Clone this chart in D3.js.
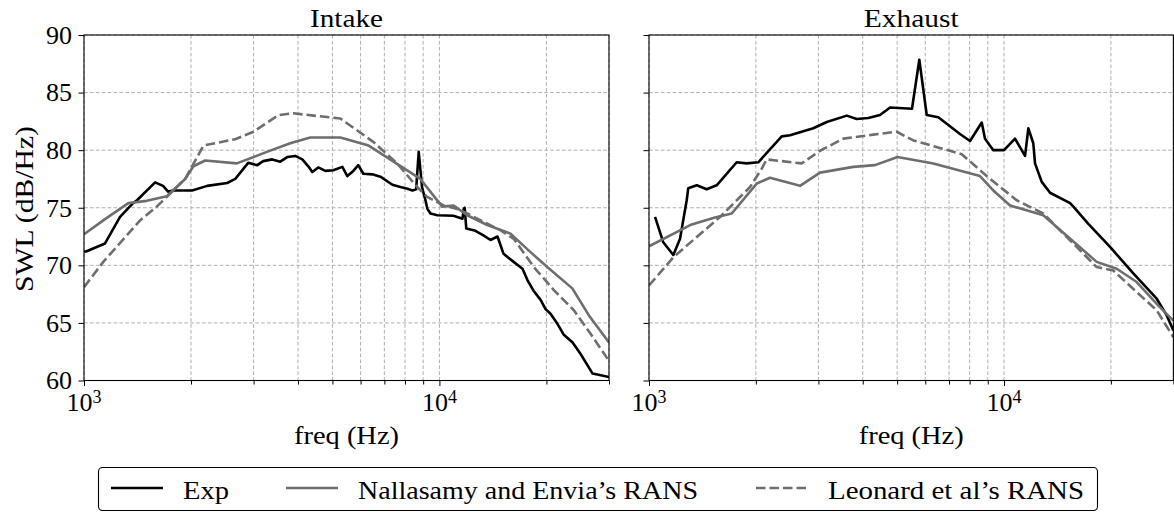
<!DOCTYPE html>
<html><head><meta charset="utf-8">
<script src="https://cdn.jsdelivr.net/npm/d3@7"></script>
<style>
body{margin:0;background:#fff}
</style>
</head><body>
<svg id="chart" width="1174" height="512" font-family="Liberation Serif, DejaVu Serif, serif"></svg>
<script>
// ---------- data ----------
const panelTitles = ["Intake", "Exhaust"];
const xLabel = "freq (Hz)";
const yLabel = "SWL (dB/Hz)";
const yTicks = [60, 65, 70, 75, 80, 85, 90];
const xMajorTicks = [1000, 10000];
const xMajorExp = ["3", "4"];
const xMinorTicks = [2000, 3000, 4000, 5000, 6000, 7000, 8000, 9000, 20000, 30000];
const seriesNames = ["Exp", "Nallasamy and Envia\u2019s RANS", "Leonard et al\u2019s RANS"];

const intakeExpFreq = [1000,1013,1146,1263,1374,1410,1585,1669,1724,1781,2015,2221,2528,2663,2897,3072,3193,3385,3566,3731,3929,4113,4276,4388,4563,4776,5028,5332,5506,5725,5912,6108,6476,6823,7374,7767,8127,8395,8600,8745,8934,9133,9252,9433,9872,10950,11610,11710,11780,11900,12630,13300,13920,14570,15150,16170,17130,17700,18400,19260,19890,20540,21500,22350,23700,24960,26980,30000];
const intakeExpSWL  = [71.2,71.2,71.9,74.2,75.4,75.65,77.2,76.9,76.4,76.5,76.5,76.9,77.15,77.5,78.9,78.7,79.05,79.2,79.0,79.4,79.5,79.2,78.6,78.1,78.5,78.2,78.25,78.55,77.75,78.2,78.7,77.95,77.9,77.7,77.0,76.8,76.65,76.5,76.6,79.85,76.8,75.65,74.9,74.5,74.35,74.3,74.05,74.9,75.0,73.2,73.0,72.6,72.2,72.5,71.0,70.3,69.7,68.7,67.8,67.0,66.2,65.8,64.9,64.0,63.3,62.3,60.6,60.3];

const intakeNalFreq = [1000,1133,1333,1502,1710,1926,2032,2192,2692,3270,3804,4331,5262,6322,8841,10180,10970,11970,13630,15850,18040,20110,23650,26340,30000];
const intakeNalSWL  = [72.7,73.9,75.4,75.6,76.0,77.5,78.6,79.1,78.85,79.85,80.6,81.1,81.1,80.4,77.5,75.1,75.2,74.35,73.5,72.75,71.15,69.85,68.0,65.65,63.3];

const intakeLeoFreq = [1000,1133,1438,1602,1926,2168,2663,3000,3527,3887,4425,5262,6530,7602,8655,9235,10280,11220,11970,14850,16190,18430,20990,23890,26630,30000];
const intakeLeoSWL  = [68.1,70.3,73.9,75.1,77.5,80.4,80.95,81.6,83.05,83.2,83.0,82.75,80.7,78.85,76.8,75.95,75.2,74.9,74.5,73.05,72.3,69.85,67.85,66.1,64.05,61.7];

const exhaustExpFreq = [1040,1097,1171,1223,1277,1290,1363,1454,1551,1766,1884,2032,2365,2496,2903,3168,3606,3847,4148,4475,4776,5506,5773,6058,6530,7516,8022,8655,8841,9330,10000,10740,11460,11710,12090,12230,12770,13480,15350,15680,17280,19890,23130,26920,28730,30000];
const exhaustExpSWL  = [74.2,72.0,70.9,72.3,75.65,76.7,76.95,76.6,76.95,78.95,78.85,78.95,81.2,81.3,81.9,82.45,83.0,82.7,82.8,83.05,83.7,83.6,87.85,83.05,82.85,81.4,80.8,82.4,81.0,80.0,80.0,81.0,79.5,81.9,80.6,78.85,77.25,76.3,75.4,75.1,73.6,71.6,69.3,67.1,65.65,64.35];

const exhaustNalFreq = [1000,1319,1534,1710,2011,2192,2663,3032,3763,4331,5012,6322,8557,9330,10400,12900,18240,20770,23650,27210,30000];
const exhaustNalSWL  = [71.65,73.55,74.15,74.5,77.1,77.6,76.9,78.05,78.55,78.7,79.4,78.85,77.75,76.5,75.2,74.35,70.3,69.7,68.55,66.5,65.2];

const exhaustLeoFreq = [1000,1171,1585,1926,2078,2145,2692,3032,3527,4283,4986,5553,7602,8940,10860,12900,18240,20320,23130,26920,30000];
const exhaustLeoSWL  = [68.25,70.7,74.2,76.8,78.4,79.2,78.85,79.95,81.0,81.35,81.6,80.85,79.65,77.75,75.65,74.5,69.85,69.55,67.95,66.1,63.75];

// ---------- layout ----------
const svg = d3.select("#chart");
const FF = "Liberation Serif, DejaVu Serif, serif";
const FONT = 26;
const plotTop = 35, plotBottom = 380.5;
const panels = [
  {x0: 84, x1: 609, title: panelTitles[0], titleW: 73, showY: true,
   series: [[intakeExpFreq, intakeExpSWL], [intakeNalFreq, intakeNalSWL], [intakeLeoFreq, intakeLeoSWL]]},
  {x0: 649, x1: 1173.4, title: panelTitles[1], titleW: 95, showY: false,
   series: [[exhaustExpFreq, exhaustExpSWL], [exhaustNalFreq, exhaustNalSWL], [exhaustLeoFreq, exhaustLeoSWL]]}
];
const styles = [
  {color: "#000", dash: null, width: 2.6},
  {color: "#6e6e6e", dash: null, width: 2.6},
  {color: "#6e6e6e", dash: "9.5,4", width: 2.6}
];
const y = d3.scaleLinear().domain([60, 90]).range([plotBottom, plotTop]);

function txt(sel, x, yy, s, size, anchor, width) {
  const t = sel.append("text").attr("x", x).attr("y", yy)
    .attr("font-family", FF).attr("font-size", size).attr("fill", "#000")
    .attr("text-anchor", anchor || "start").text(s);
  if (width) t.attr("textLength", width).attr("lengthAdjust", "spacingAndGlyphs");
  return t;
}

panels.forEach((p, pi) => {
  const x = d3.scaleLog().domain([1000, 30000]).range([p.x0, p.x1]);
  const g = svg.append("g");
  const clipId = "clip" + pi;
  svg.append("clipPath").attr("id", clipId).append("rect")
    .attr("x", p.x0).attr("y", plotTop).attr("width", p.x1 - p.x0).attr("height", plotBottom - plotTop);

  // grid
  const grid = g.append("g").attr("stroke", "#b0b0b0").attr("stroke-width", 1).attr("stroke-dasharray", "3.7,2.2");
  xMajorTicks.concat(xMinorTicks).forEach(t => {
    grid.append("line").attr("x1", x(t)).attr("x2", x(t)).attr("y1", plotTop).attr("y2", plotBottom);
  });
  yTicks.forEach(t => {
    grid.append("line").attr("x1", p.x0).attr("x2", p.x1).attr("y1", y(t)).attr("y2", y(t));
  });

  // lines
  const lg = g.append("g").attr("clip-path", `url(#${clipId})`);
  p.series.forEach((s, si) => {
    const data = s[0].map((f, i) => [f, s[1][i]]);
    const line = d3.line().x(d => x(d[0])).y(d => y(d[1]));
    lg.append("path").datum(data).attr("d", line)
      .attr("fill", "none").attr("stroke", styles[si].color)
      .attr("stroke-width", styles[si].width)
      .attr("stroke-linejoin", "round")
      .attr("stroke-dasharray", styles[si].dash);
  });

  // axes (ticks only)
  const xAxisMajor = d3.axisBottom(x).tickValues(xMajorTicks).tickSize(5.5).tickFormat("");
  const xAxisMinor = d3.axisBottom(x).tickValues(xMinorTicks).tickSize(4).tickFormat("");
  g.append("g").attr("transform", `translate(0,${plotBottom})`).call(xAxisMinor).call(a => a.select(".domain").remove());
  g.append("g").attr("transform", `translate(0,${plotBottom})`).call(xAxisMajor).call(a => a.select(".domain").remove());
  const yAxis = d3.axisLeft(y).tickValues(yTicks).tickSize(5.5).tickFormat("");
  const ya = g.append("g").attr("transform", `translate(${p.x0},0)`).call(yAxis);
  ya.select(".domain").remove();
  g.selectAll(".tick line").attr("stroke", "#000").attr("stroke-width", 1);

  if (p.showY) {
    yTicks.forEach(t => {
      txt(g, p.x0 - 12, y(t), String(t), FONT, "end").attr("dy", "0.34em");
    });
  }

  // frame
  g.append("rect").attr("x", p.x0).attr("y", plotTop).attr("width", p.x1 - p.x0).attr("height", plotBottom - plotTop)
    .attr("fill", "none").attr("stroke", "#000").attr("stroke-width", 1.1);

  // x major labels
  xMajorTicks.forEach((t, i) => {
    const tx = txt(g, x(t), 410.5, "", FONT, "middle");
    tx.append("tspan").text("10");
    tx.append("tspan").attr("dy", -8).attr("font-size", 18).text(xMajorExp[i]);
  });

  // titles
  txt(g, (p.x0 + p.x1) / 2, 27, p.title, FONT, "middle", p.titleW);
  txt(g, (p.x0 + p.x1) / 2, 444, xLabel, FONT, "middle", 105);
});

// y label
txt(svg, 0, 0, yLabel, FONT, "middle", 166).attr("transform", "translate(33,209) rotate(-90)");

// legend
const leg = svg.append("g");
leg.append("rect").attr("x", 98.5).attr("y", 467.5).attr("width", 999).attr("height", 43).attr("rx", 4)
  .attr("fill", "#fff").attr("stroke", "#000").attr("stroke-width", 1.1);
const legHandleX = [111, 286, 756];
const legTextW = [46, 340, 256];
seriesNames.forEach((n, i) => {
  leg.append("line").attr("x1", legHandleX[i]).attr("x2", legHandleX[i] + 52).attr("y1", 488).attr("y2", 488)
    .attr("stroke", styles[i].color).attr("stroke-width", styles[i].width).attr("stroke-dasharray", styles[i].dash);
  txt(leg, legHandleX[i] + 72, 499, n, FONT, "start", legTextW[i]);
});
</script>
</body></html>
